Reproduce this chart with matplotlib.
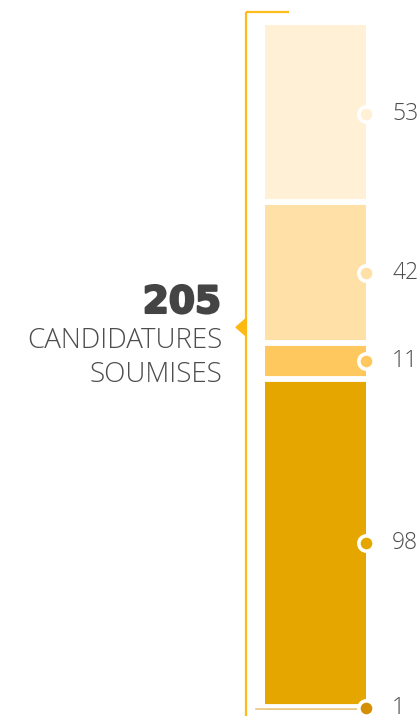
import numpy as np
import matplotlib.pyplot as plt
import matplotlib.patheffects as pe
from matplotlib.patches import Polygon

# Data (bottom to top of the stack)
values = [1, 98, 11, 42, 53]
colors = ["#d49000", "#e5a600", "#ffc85f", "#ffe0a6", "#fff0d6"]
total = sum(values)
title_num = str(total)
title_lines = ["CANDIDATURES", "SOUMISES"]

bracket_color = "#fcbd1c"
text_color = "#4d4d4d"

fig = plt.figure(figsize=(4.19, 7.16), dpi=100)
ax = fig.add_axes([0, 0, 1, 1])
ax.set_xlim(0, 419)
ax.set_ylim(-1.8, 212.6)
ax.axis("off")

bar_x = 315.5
bar_w = 101
bottoms = np.concatenate([[0], np.cumsum(values)[:-1]])

# stacked bar
for v, b, c in zip(values, bottoms, colors):
    ax.bar(bar_x, v, width=bar_w, bottom=b, color=c, zorder=2)

# white gaps between segments
for b in bottoms[1:]:
    ax.plot([bar_x - bar_w / 2 - 2, bar_x + bar_w / 2 + 2], [b, b], color="white", lw=4.2, zorder=3)

# the tiny segment gets drawn again as a thin line so it stays visible
ax.plot([bar_x - bar_w / 2 - 9, bar_x + bar_w / 2], [values[0] * 0.35, values[0] * 0.35],
        color=colors[0], lw=1.2, alpha=0.5, zorder=4)

# dots + labels
for v, b, c in zip(values, bottoms, colors):
    mid = b + v / 2
    ax.plot(bar_x + bar_w / 2, mid, "o", ms=11, mfc=c, mec="white", mew=2.6, zorder=5)
    ax.text(bar_x + bar_w / 2 + 26, mid, str(v), fontsize=16.5, family="Open Sans", fontweight="light",
            color=text_color, va="center", ha="left")

# bracket
br_x = 246
ax.plot([br_x, br_x], [-1.8, 209], color=bracket_color, lw=1.6, zorder=1, solid_capstyle="butt")
ax.plot([br_x, 289], [209, 209], color=bracket_color, lw=1.6, zorder=1, solid_capstyle="butt")
tri_y = 114.6
ax.add_patch(Polygon([[br_x, tri_y + 2.6], [br_x - 10, tri_y], [br_x, tri_y - 2.6]],
                     closed=True, color="#fdb913", zorder=2))

# title
ax.text(221, 118.9, title_num, fontsize=27, family="DejaVu Sans", fontweight="bold",
        color="#444444", ha="right", va="baseline",
        path_effects=[pe.withStroke(linewidth=1.6, foreground="#444444")])
ax.text(222, 108.4, title_lines[0], fontsize=20, family="Open Sans", fontweight="light",
        color=text_color, ha="right", va="baseline")
ax.text(222, 98.2, title_lines[1], fontsize=20, family="Open Sans", fontweight="light",
        color=text_color, ha="right", va="baseline")

plt.savefig("out.png", dpi=100)
